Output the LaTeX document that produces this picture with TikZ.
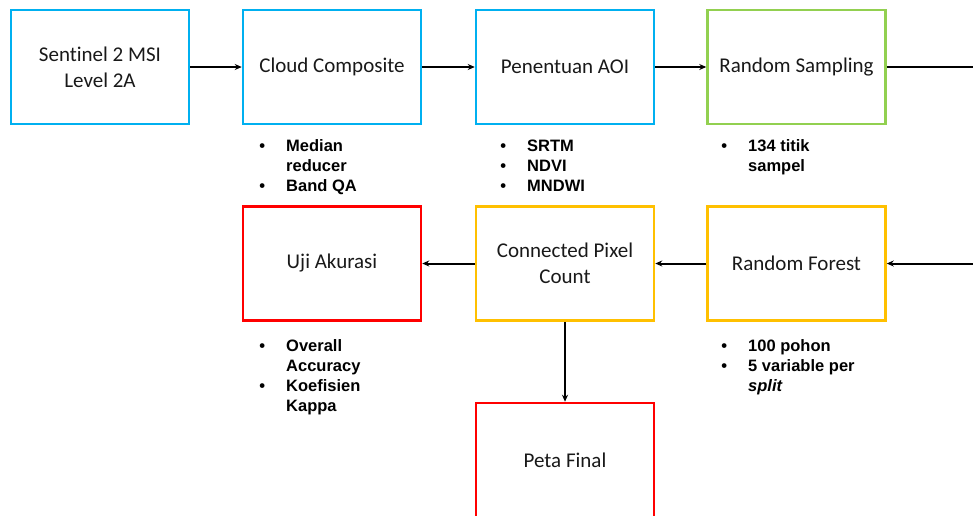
\documentclass[tikz,border=0pt]{standalone}
\usepackage{fontspec}
\usepackage{array}
\newfontfamily\boxfont[RawFeature={-liga;-clig;-calt}]{Carlito}
\newfontfamily\bulfont{Liberation Sans}
\usetikzlibrary{arrows.meta}
\definecolor{cblue}{HTML}{00B0F0}
\definecolor{cgreen}{HTML}{92D050}
\definecolor{cyellow}{HTML}{FFC000}
\definecolor{cred}{HTML}{FF0000}
\tikzset{
  box/.style={draw=#1, line width=2.5pt, minimum width=178pt, minimum height=114pt, inner sep=0pt, align=center, text=black!90, font=\boxfont\fontsize{21}{26}\selectfont},
  bul/.style={anchor=north west, inner sep=0pt, font=\bulfont\bfseries\fontsize{16.5}{20}\selectfont, text=black},
  conn/.style={line width=2pt, -{Stealth[length=7pt,width=6pt]}},
}
\newcommand{\blist}[1]{\begin{tabular}{@{}>{\centering\arraybackslash}p{8pt}@{\hspace{20pt}}l@{}}#1\end{tabular}}
\begin{document}
\begin{tikzpicture}[x=1pt,y=-1pt]
\useasboundingbox (0,0) rectangle (973,515);
\clip (0,0) rectangle (973,515);
\node[box=cblue] (s2) at (100,67) {Sentinel 2 MSI\\Level 2A};
\node[box=cblue] (cc) at (332,67) {Cloud Composite};
\node[box=cblue] (aoi) at (565,67) {Penentuan AOI};
\node[box=cgreen] (rs) at (796.5,67) {Random Sampling};
\node[box=cred] (uji) at (332,263.5) {Uji Akurasi};
\node[box=cyellow] (cpc) at (565,263.5) {Connected Pixel\\Count};
\node[box=cyellow] (rf) at (796.5,263.5) {Random Forest};
\node[box=cred] (peta) at (565,460) {Peta Final};

\node[bul] (l1) at (258,137) {\blist{\textbullet & Median\\ & reducer\\ \textbullet & Band QA}};
\node[bul] (l2) at (499,137) {\blist{\textbullet & SRTM\\ \textbullet & NDVI\\ \textbullet & MNDWI}};
\node[bul] (l3) at (720,137) {\blist{\textbullet & 134 titik\\ & sampel}};
\node[bul] (l4) at (258,337) {\blist{\textbullet & Overall\\ & Accuracy\\ \textbullet & Koefisien\\ & Kappa}};
\node[bul] (l5) at (720,337) {\blist{\textbullet & 100 pohon\\ \textbullet & 5 variable per\\ & \textit{split}}};

\coordinate (r1) at (995,67);
\coordinate (r2) at (995,263.5);
\draw[conn] (s2) -- (cc);
\draw[conn] (cc) -- (aoi);
\draw[conn] (aoi) -- (rs);
\draw[conn] (rs.east) -- (r1) -- (r2) -- (rf.east);
\draw[conn] (rf) -- (cpc);
\draw[conn] (cpc) -- (uji);
\draw[conn] (cpc) -- (peta);
\end{tikzpicture}
\end{document}
